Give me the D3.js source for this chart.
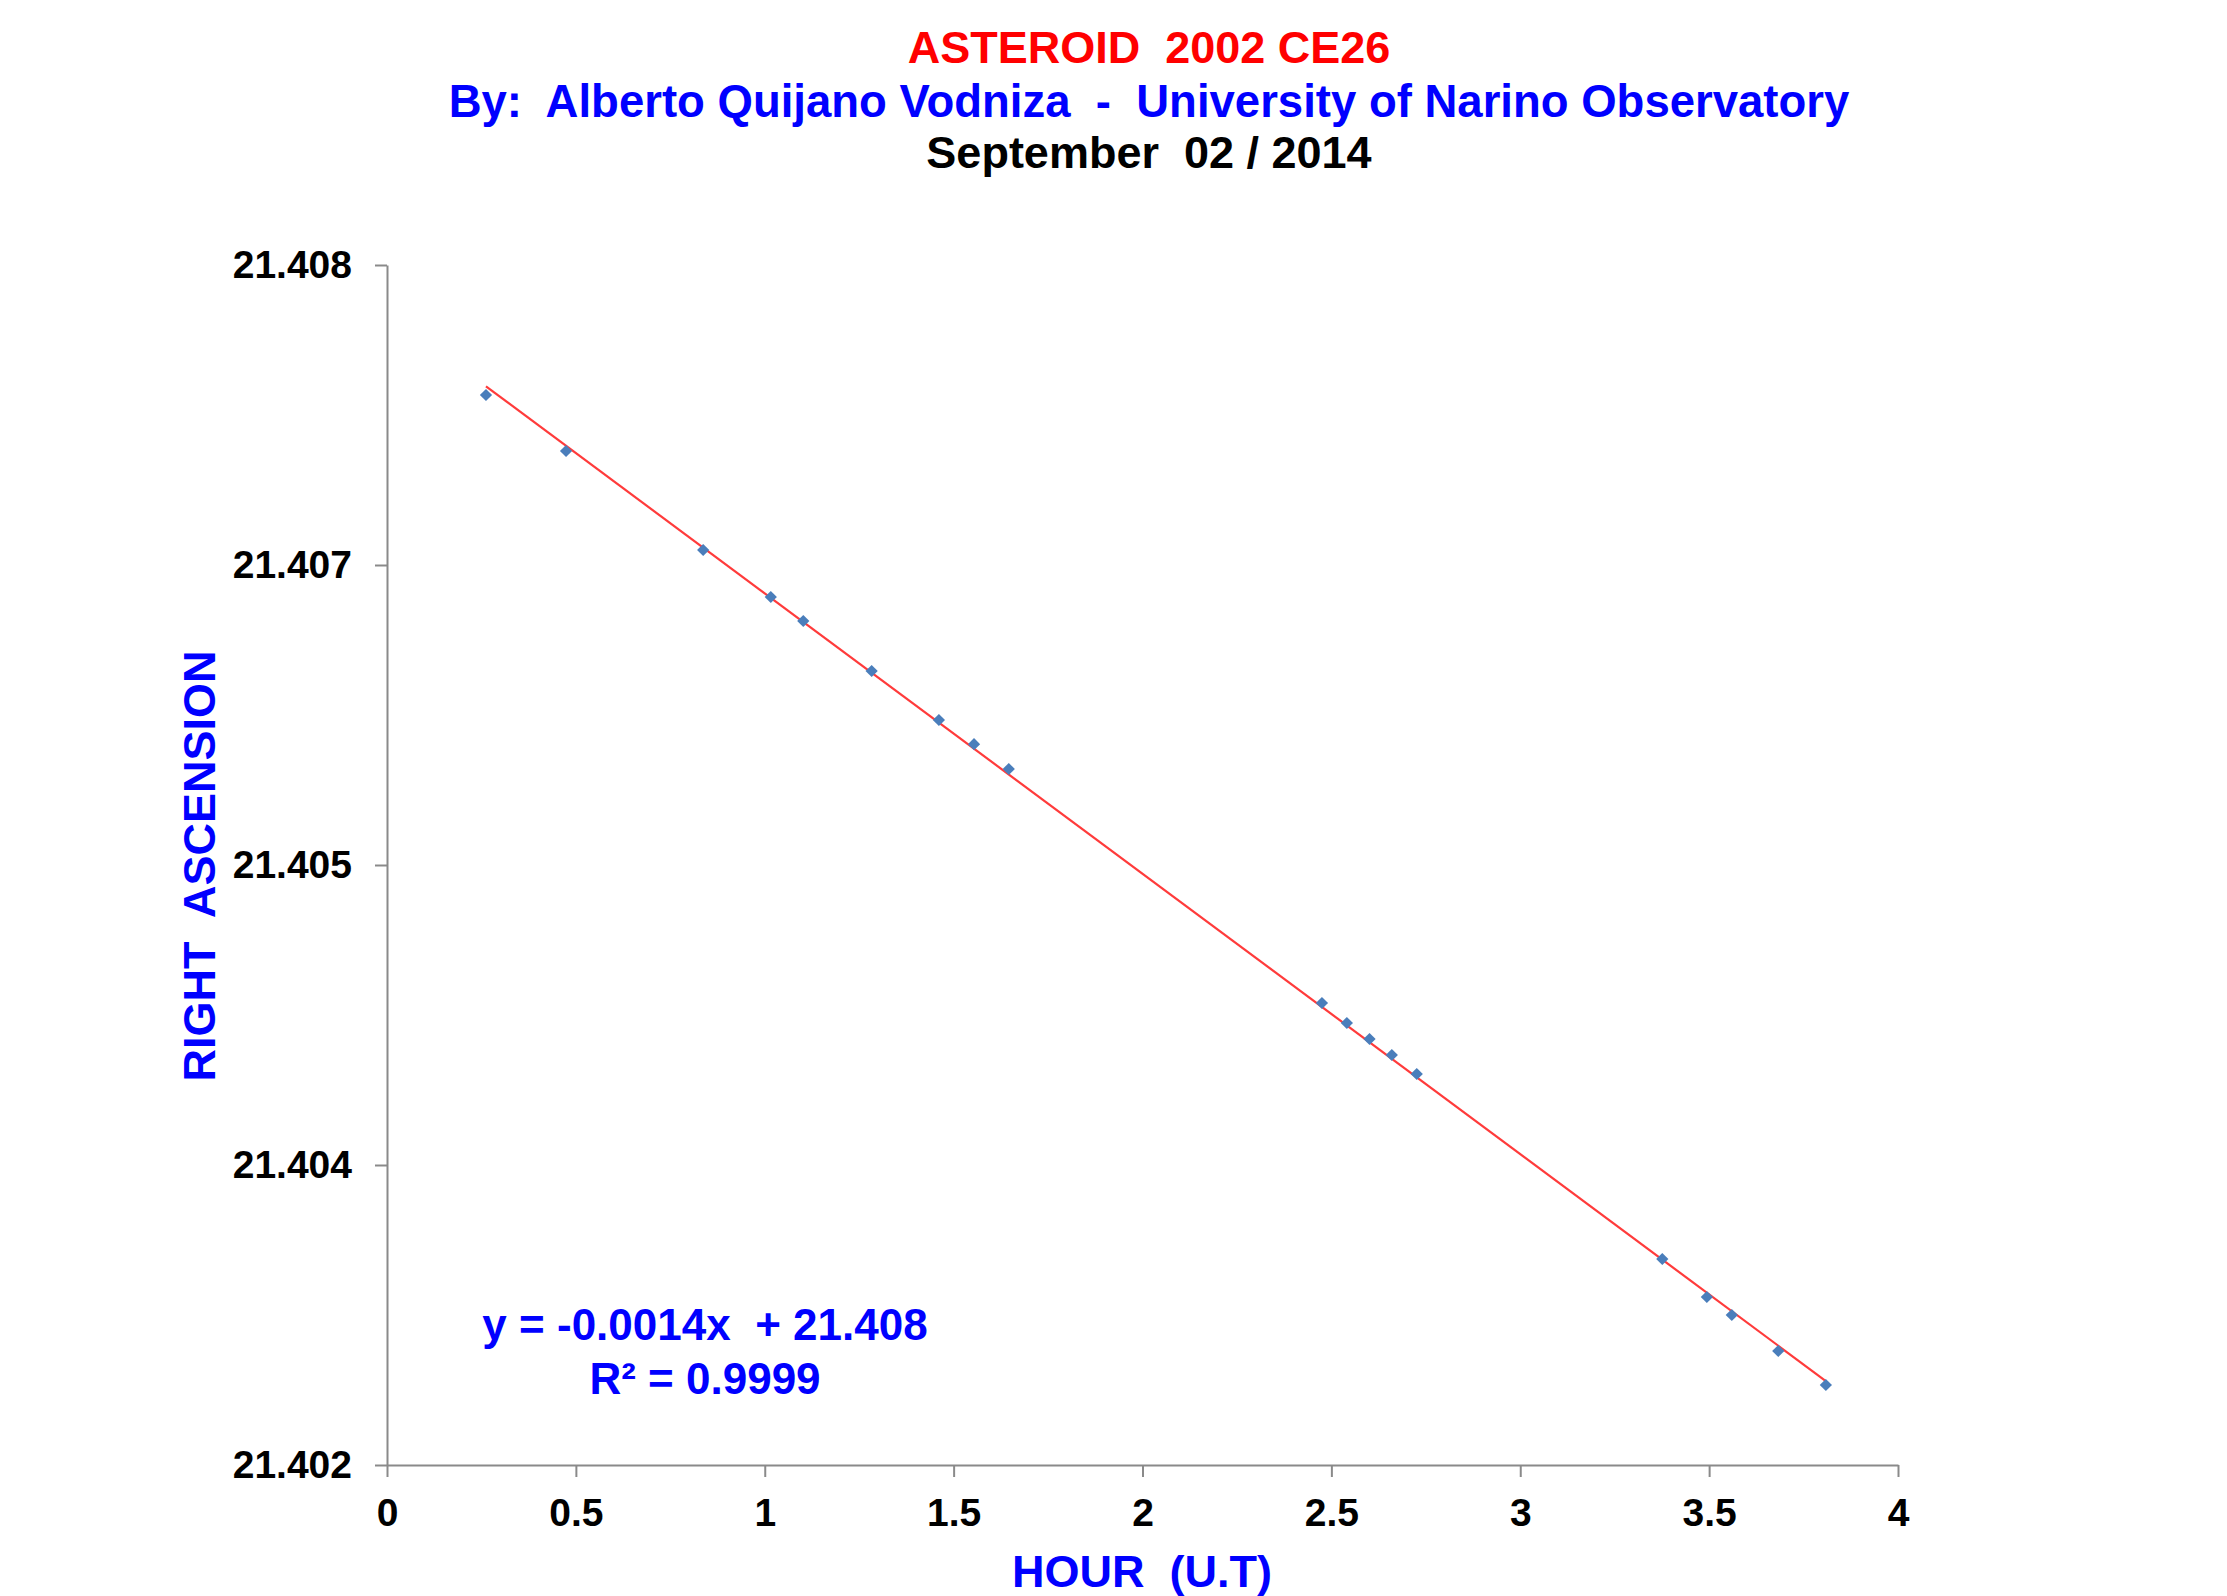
<!DOCTYPE html>
<html>
<head>
<meta charset="utf-8">
<script src="https://cdn.jsdelivr.net/npm/d3@7"></script>
<style>
  body { margin: 0; background: #fff; }
  text { font-family: "Liberation Sans", Arial, sans-serif; font-weight: bold; white-space: pre; }
</style>
</head>
<body>
<div id="chart"></div>
<script>
// observation times (hours U.T) and right ascension values
const hours = [0.262, 0.474, 0.837, 1.016, 1.102, 1.283, 1.461, 1.554, 1.646,
               2.475, 2.541, 2.601, 2.660, 2.726,
               3.376, 3.494, 3.560, 3.683, 3.809];
const rightAscension = [21.40735, 21.40707, 21.406575, 21.40634, 21.40622, 21.40597, 21.405725, 21.405604, 21.40548,
                        21.40431, 21.40421, 21.40413, 21.40405, 21.403955,
                        21.40303, 21.40284, 21.40275, 21.40257, 21.40240];

const xTicks = [0, 0.5, 1, 1.5, 2, 2.5, 3, 3.5, 4];
const yTicks = [21.402, 21.4035, 21.405, 21.4065, 21.408];
const yTickLabels = ["21.402", "21.404", "21.405", "21.407", "21.408"];

const titleLines = ["ASTEROID  2002 CE26",
                    "By:  Alberto Quijano Vodniza  -  University of Narino Observatory",
                    "September  02 / 2014"];
const equationLines = ["y = -0.0014x  + 21.408", "R\u00B2 = 0.9999"];

const W = 2227, H = 1596;
const plot = { left: 387, right: 1898, top: 265, bottom: 1465 };

const svg = d3.select('#chart').append('svg')
    .attr('width', W)
    .attr('height', H);

svg.append('rect').attr('width', W).attr('height', H).attr('fill', '#fff');

const x = d3.scaleLinear().domain([0, 4]).range([plot.left, plot.right]);
const y = d3.scaleLinear().domain([21.402, 21.408]).range([plot.bottom, plot.top]);

// titles
const titleColors = ['#ff0000', '#0000ff', '#000000'];
const titleY = [63, 117, 168];
titleLines.forEach((t, i) => {
    svg.append('text')
        .attr('x', 1149)
        .attr('y', titleY[i])
        .attr('text-anchor', 'middle')
        .attr('font-size', i === 1 ? 45.5 : 45)
        .attr('fill', titleColors[i])
        .text(t);
});

// axes
const xAxis = svg.append('g')
    .attr('transform', `translate(0,${plot.bottom})`)
    .call(d3.axisBottom(x).tickValues(xTicks).tickFormat(d3.format('')).tickSize(12).tickSizeOuter(0).tickPadding(21));

const yAxis = svg.append('g')
    .attr('transform', `translate(${plot.left},0)`)
    .call(d3.axisLeft(y).tickValues(yTicks).tickFormat((d, i) => yTickLabels[i]).tickSize(12).tickSizeOuter(0).tickPadding(23));

[xAxis, yAxis].forEach(a => {
    a.select('.domain').attr('stroke', '#8a8a8a').attr('stroke-width', 2);
    a.selectAll('.tick line').attr('stroke', '#8a8a8a').attr('stroke-width', 2);
    a.selectAll('.tick text')
        .attr('font-size', 39)
        .attr('fill', '#000')
        .style('font-family', '"Liberation Sans", Arial, sans-serif')
        .style('font-weight', 'bold');
});

// axis titles
svg.append('text')
    .attr('x', 1142)
    .attr('y', 1587)
    .attr('text-anchor', 'middle')
    .attr('font-size', 45)
    .attr('fill', '#0000ff')
    .text('HOUR  (U.T)');

svg.append('text')
    .attr('transform', 'translate(215,866) rotate(-90)')
    .attr('text-anchor', 'middle')
    .attr('font-size', 45)
    .attr('fill', '#0000ff')
    .text('RIGHT  ASCENSION');

// linear trend line (least squares)
const mx = d3.mean(hours), my = d3.mean(rightAscension);
let sxy = 0, sxx = 0;
hours.forEach((h, i) => {
    sxy += (h - mx) * (rightAscension[i] - my);
    sxx += (h - mx) * (h - mx);
});
const slope = sxy / sxx;
const intercept = my - slope * mx;
const xr = d3.extent(hours);

svg.append('line')
    .attr('x1', x(xr[0])).attr('y1', y(slope * xr[0] + intercept))
    .attr('x2', x(xr[1])).attr('y2', y(slope * xr[1] + intercept))
    .attr('stroke', '#ff3b3b')
    .attr('stroke-width', 2.2);

// data markers (diamonds)
const diamond = d3.symbol().type(d3.symbolSquare).size(75);
svg.append('g')
    .selectAll('path')
    .data(hours.map((h, i) => [h, rightAscension[i]]))
    .enter().append('path')
    .attr('d', diamond)
    .attr('transform', d => `translate(${x(d[0])},${y(d[1])}) rotate(45)`)
    .attr('fill', '#4a7ebb');

// equation label
const eqY = [1340, 1394];
equationLines.forEach((t, i) => {
    svg.append('text')
        .attr('x', 705)
        .attr('y', eqY[i])
        .attr('text-anchor', 'middle')
        .attr('font-size', 44)
        .attr('fill', '#0000ff')
        .text(t);
});
</script>
</body>
</html>
